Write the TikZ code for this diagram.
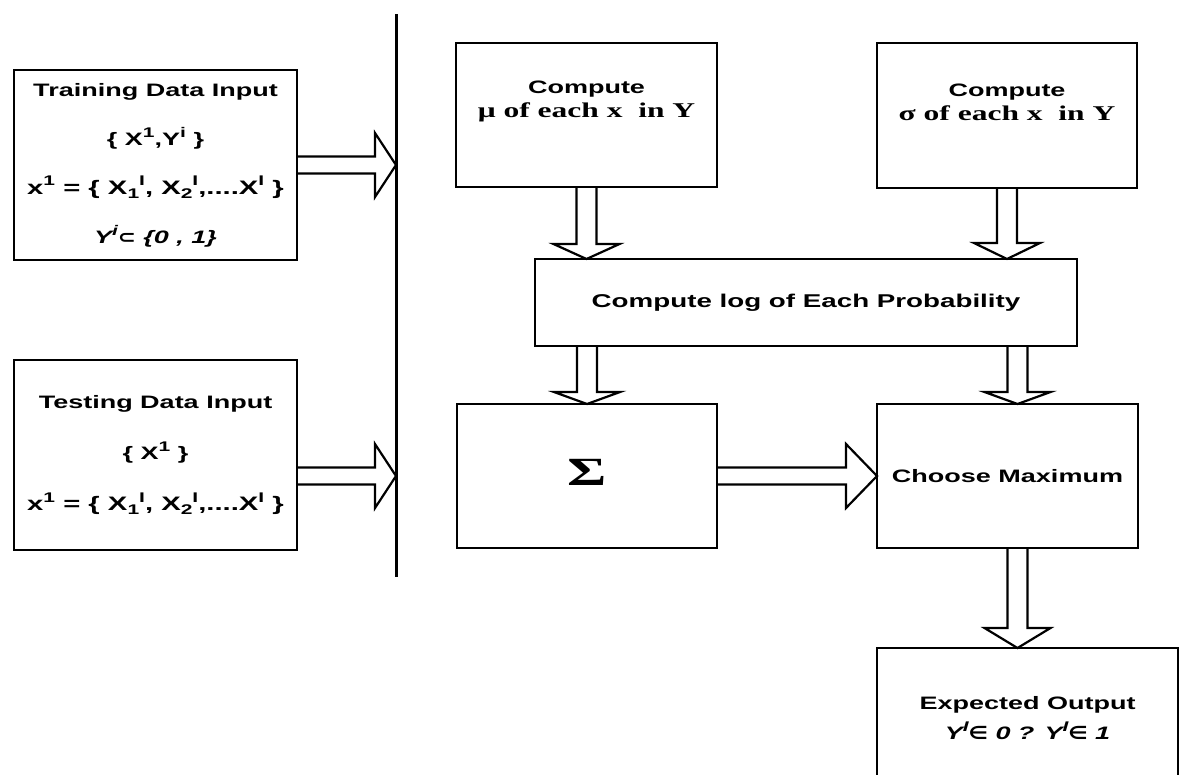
\documentclass[tikz,border=0pt]{standalone}
\usepackage{fontspec}
\setmainfont{Liberation Sans}
\newfontfamily\boxfont[FakeStretch=1.5]{Liberation Sans}
\newfontfamily\serifwide[FakeStretch=1.5]{Liberation Serif}
\newfontfamily\symwide[FakeStretch=1.2]{DejaVu Sans}
\usetikzlibrary{calc}

% raised and lowered indices for the data set formulas
\newcommand{\hi}[1]{\raisebox{0.42em}{\fontsize{14}{14}\selectfont #1}}
\newcommand{\lo}[1]{\raisebox{-0.22em}{\fontsize{14}{14}\selectfont #1}}

% hollow block arrow pointing down: start point, tip point, head length
\newcommand{\downblock}[3]{%
  \draw[blk] let \p1=(#1), \p2=(#2) in
    (\x2-10pt,\y1) -- (\x2-10pt,\y2+#3) -- (\x2-33pt,\y2+#3) -- (\x2,\y2)
    -- (\x2+33pt,\y2+#3) -- (\x2+10pt,\y2+#3) -- (\x2+10pt,\y1);}
% hollow block arrow pointing right: start point, tip point, head length
\newcommand{\rightblock}[3]{%
  \draw[blk] let \p1=(#1), \p2=(#2) in
    (\x1,\y2+8.5pt) -- (\x2-#3,\y2+8.5pt) -- (\x2-#3,\y2+32pt) -- (\x2,\y2)
    -- (\x2-#3,\y2-32pt) -- (\x2-#3,\y2-8.5pt) -- (\x1,\y2-8.5pt);}

\tikzset{
  box/.style={draw=black, line width=2.4pt, anchor=north west,
    inner sep=0pt, outer sep=0pt, align=center,
    font=\boxfont\bfseries\fontsize{18}{22}\selectfont},
  blk/.style={draw=black, line width=2.2pt, line join=miter},
  txt/.style={inner sep=0pt, align=center,
    font=\boxfont\bfseries\fontsize{18}{24}\selectfont},
}

\begin{document}
\begin{tikzpicture}[x=1pt, y=-1pt]
\useasboundingbox (0,0) rectangle (1182,774);
\fill[white] (0,0) rectangle (1182,774);
\clip (0,0) rectangle (1182,774);

% separator between the inputs and the processing chain
\coordinate (ltop) at (396,14);
\coordinate (lbot) at (396,577);
\draw[line width=3pt] (ltop) -- (lbot);

% input boxes
\node[box, minimum width=283pt, minimum height=190pt,
      font=\boxfont\bfseries\fontsize{18}{49}\selectfont] (train) at (14,70)
  {Training Data Input\\
   \{ X\hi{1},Y\hi{i} \}\\
   {\fontsize{19.5}{49}\selectfont x\hi{1} = \{ X\lo{1}\hi{I}, X\lo{2}\hi{I},....X\hi{I} \}}\\
   \textit{Y\hi{i}{\symwide ⊂} \{0 , 1\}}};
\node[box, minimum width=283pt, minimum height=190pt,
      font=\boxfont\bfseries\fontsize{18}{51}\selectfont] (test) at (14,360)
  {Testing Data Input\\
   \{ X\hi{1} \}\\
   {\fontsize{19.5}{51}\selectfont x\hi{1} = \{ X\lo{1}\hi{I}, X\lo{2}\hi{I},....X\hi{I} \}}};

% processing boxes
\node[box, minimum width=261pt, minimum height=144pt] (mu) at (456,43) {};
\node[box, minimum width=260pt, minimum height=145pt] (sig) at (877,43) {};
\node[box, minimum width=542pt, minimum height=87pt,
      font=\boxfont\bfseries\fontsize{18.5}{22}\selectfont] (log) at (535,259)
  {Compute log of Each Probability};
\node[box, minimum width=260pt, minimum height=144pt] (sum) at (457,404) {};
\node[box, minimum width=261pt, minimum height=144pt] (max) at (877,404)
  {Choose Maximum};
\node[box, minimum width=301pt, minimum height=140pt,
      font=\boxfont\bfseries\fontsize{18}{30}\selectfont] (out) at (877,648)
  {Expected Output\\
   \textit{Y\hi{I}{\symwide ∈} 0 ? Y\hi{I}{\symwide ∈} 1}};

% box captions
\node[txt] (muT) at ([yshift=14pt]mu.center)
  {Compute\\ {\serifwide\bfseries\fontsize{21}{24}\selectfont μ of each x\ \ in Y}};
\node[txt] (sigT) at ([yshift=13pt]sig.center)
  {Compute\\ {\serifwide\bfseries\fontsize{21}{24}\selectfont σ of each x\ \ in Y}};
\node[txt, font=\serifwide\bfseries\fontsize{40}{42}\selectfont] (sumT)
  at ([yshift=4pt]sum.center) {Σ};

% block arrows
\rightblock{train.east}{train.east -| ltop}{21pt}
\rightblock{test.east |- sum.east}{ltop |- sum.east}{21pt}
\downblock{mu.south}{mu.south |- log.north}{15pt}
\downblock{sig.south}{sig.south |- log.north}{16pt}
\downblock{log.south -| sum.north}{sum.north}{12pt}
\coordinate (lmx) at ([xshift=10pt]max.north);
\downblock{log.south -| lmx}{lmx}{12pt}
\rightblock{sum.east}{max.west}{31pt}
\coordinate (mox) at ([xshift=10pt]max.south);
\downblock{mox}{mox |- out.north}{20pt}
\end{tikzpicture}
\end{document}
